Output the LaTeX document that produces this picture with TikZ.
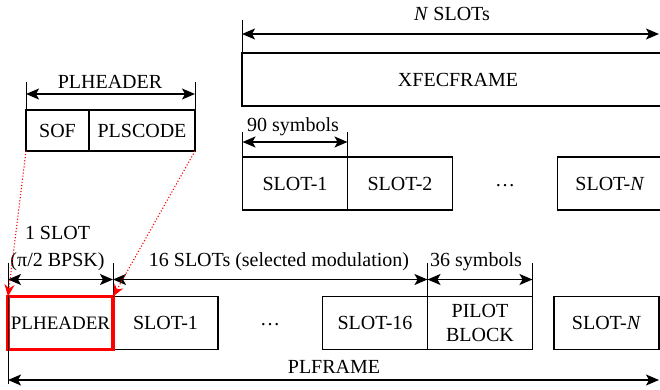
\documentclass[tikz,border=0pt]{standalone}
\usepackage{fontspec}
\setmainfont{Liberation Serif}
\newfontfamily\framefont{Liberation Serif}
\usetikzlibrary{positioning, arrows.meta, calc}

\begin{document}
\begin{tikzpicture}[x=1pt, y=-1pt,
  >={Stealth[length=13pt,width=11pt,inset=3pt]},
  box/.style={draw, line width=1.8pt, minimum width=105pt, minimum height=53pt, inner sep=0pt, outer sep=0pt, align=center, font=\framefont\fontsize{20}{24}\selectfont},
  lbl/.style={inner sep=0pt, align=center, font=\framefont\fontsize{20}{27}\selectfont},
  dim/.style={<->, line width=1.3pt},
  tick/.style={line width=1pt},
  link/.style={red, dotted, line width=1.1pt, -{Stealth[length=12pt,width=10pt]}}]

  \useasboundingbox (0,0) rectangle (660,390);
  \clip (0,0) rectangle (660,390);

  % XFECFRAME and its slots
  \node[box, minimum width=432pt] (xfec) at (458,79.5) {XFECFRAME};
  \node[box] (tslot1) at (295,183.5) {SLOT-1};
  \node[box, right=0pt of tslot1] (tslot2) {SLOT-2};
  \node[lbl] (tdots) at (505,186) {\dots};
  \node[box] (tslotn) at (610,183.5) {SLOT-\textit{N}};

  \node[lbl] (nslots) at (452,14) {\textit{N} SLOTs};
  \coordinate (nend) at (659,34);
  \draw[dim] (xfec.north west |- nend) -- (nend);
  \draw[tick] (xfec.north west) -- ++(0,-33);

  \node[lbl] (ninety) at (293,127) {90 symbols};
  \draw[dim] ([yshift=15pt]tslot1.north west) -- ([yshift=15pt]tslot1.north east);
  \draw[tick] (tslot1.north west) -- ++(0,-25);
  \draw[tick] (tslot1.north east) -- ++(0,-25);

  % PLHEADER fields
  \node[box, minimum width=63pt, minimum height=41pt] (sof) at (57.5,130.5) {SOF};
  \node[box, minimum width=106pt, minimum height=41pt, right=0pt of sof] (plscode) {PLSCODE};
  \node[lbl] (plhlabel) at (110,82) {PLHEADER};
  \draw[dim] ([yshift=16pt]sof.north west) -- ([yshift=16pt]plscode.north east);
  \draw[tick] (sof.north west) -- ++(0,-28);
  \draw[tick] (plscode.north east) -- ++(0,-28);

  % PLFRAME
  \node[box] (bslot1) at (165.5,323) {SLOT-1};
  \node[box, draw=red, line width=3.5pt, font=\framefont\fontsize{19}{22}\selectfont, left=0pt of bslot1] (plh) {PLHEADER};
  \node[lbl] (bdots) at (270,325) {\dots};
  \node[box] (bslot16) at (375,323) {SLOT-16};
  \node[box, right=0pt of bslot16] (pilot) {PILOT\\BLOCK};
  \node[box] (bslotn) at (606.5,323) {SLOT-\textit{N}};

  \node[lbl] (oneslot) at (57.5,249) {1 SLOT\\(π/2 BPSK)};
  \node[lbl] (sixteen) at (279,262) {16 SLOTs (selected modulation)};
  \node[lbl] (thirtysix) at (476,262) {36 symbols};
  \draw[dim] ([yshift=17pt]plh.north west) -- ([yshift=17pt]plh.north east);
  \draw[dim] ([yshift=17pt]bslot1.north west) -- ([yshift=17pt]bslot16.north east);
  \draw[dim] ([yshift=17pt]pilot.north west) -- ([yshift=17pt]pilot.north east);
  \draw[tick] (plh.north east) -- ++(0,-34);
  \draw[tick] (pilot.north west) -- ++(0,-34);
  \draw[tick] (pilot.north east) -- ++(0,-34);
  \draw[tick] ([yshift=34pt]plh.north west) -- ([yshift=-34pt]plh.south west);

  \node[lbl] (plframe) at (334,367) {PLFRAME};
  \coordinate (fend) at (659,380);
  \draw[dim] (plh.south west |- fend) -- (fend);

  % header goes into the first slot
  \draw[link] (sof.south west) -- (plh.north west);
  \draw[link] (plscode.south east) -- (plh.north east);
\end{tikzpicture}
\end{document}
